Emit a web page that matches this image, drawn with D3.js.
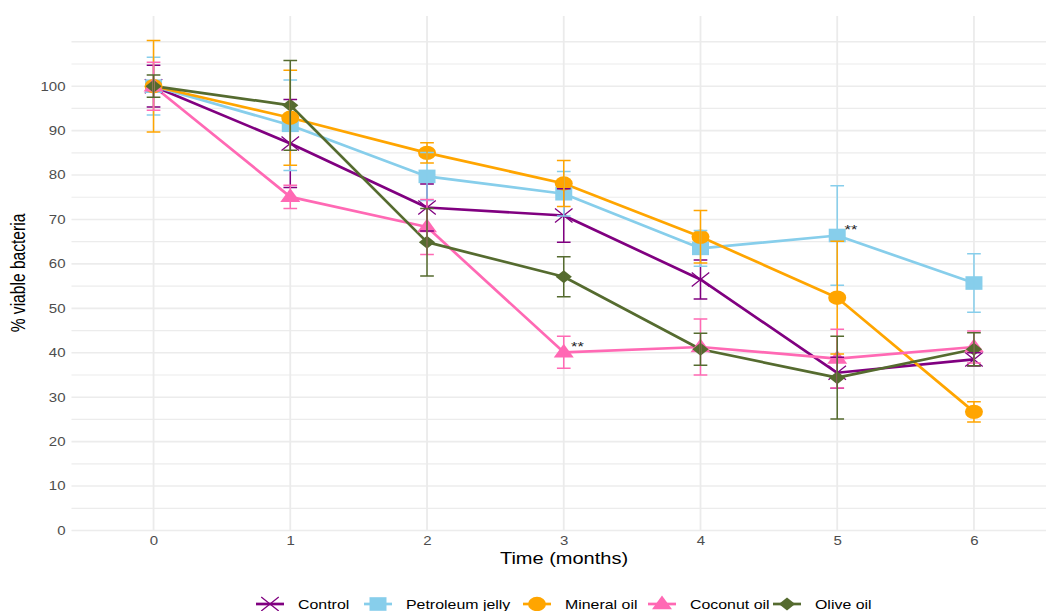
<!DOCTYPE html>
<html>
<head>
<meta charset="utf-8">
<script src="https://cdn.jsdelivr.net/npm/d3@7"></script>
<style>
  html, body { margin: 0; padding: 0; background: #fff; }
  svg { display: block; font-family: "Liberation Sans", Arial, sans-serif; }
</style>
</head>
<body>
<svg id="chart" width="1046" height="611"></svg>
<script>
// ---- data ----
const months = [0, 1, 2, 3, 4, 5, 6];
const seriesNames = ["Control", "Petroleum jelly", "Mineral oil", "Coconut oil", "Olive oil"];
const seriesColors = ["#800080", "#87CEEB", "#FFA500", "#FF69B4", "#556B2F"];
const seriesShapes = ["cross", "square", "circle", "triangle", "diamond"];

const control       = [100, 87.1, 72.7, 70.9, 56.5, 35.5, 38.5];
const controlErr    = [4.7, 9.9, 5.3, 6.0, 4.4, 3.5, 1.5];
const petroleum     = [100, 91.2, 79.7, 75.8, 63.5, 66.4, 55.7];
const petroleumErr  = [6.5, 10.2, 5.4, 5.0, 4.0, 11.2, 6.6];
const mineral       = [100, 92.9, 85.0, 78.1, 66.1, 52.4, 26.7];
const mineralErr    = [10.3, 10.7, 2.3, 5.2, 5.9, 12.7, 2.3];
const coconut       = [100, 75.1, 68.3, 40.1, 41.3, 38.7, 41.3];
const coconutErr    = [5.4, 2.6, 6.2, 3.6, 6.3, 6.6, 3.6];
const olive         = [100, 95.7, 64.9, 57.1, 40.8, 34.4, 40.8];
const oliveErr      = [2.5, 10.1, 7.6, 4.5, 3.6, 9.3, 3.7];

const yTicks = [0, 10, 20, 30, 40, 50, 60, 70, 80, 90, 100];
const yGrid = d3.range(0, 111, 5);
const annotations = [ {series: "Coconut oil", month: 3, label: "**"},
                      {series: "Petroleum jelly", month: 5, label: "**"} ];

const valueSets = [control, petroleum, mineral, coconut, olive];
const errSets = [controlErr, petroleumErr, mineralErr, coconutErr, oliveErr];
const series = seriesNames.map((name, i) => ({
  name, color: seriesColors[i], shape: seriesShapes[i],
  points: months.map((m, j) => ({m, v: valueSets[i][j], e: errSets[i][j]}))
}));

// ---- layout ----
const SX = 1.25; // horizontal stretch of the reference
const svg = d3.select("#chart");
const x = d3.scaleLinear().domain([-0.6, 6.6]).range([71.5, 1056]);
const y = d3.scaleLinear().domain([0, 115.8]).range([530.5, 16]);

// gridlines
const grid = svg.append("g");
grid.selectAll("line.h").data(yGrid).enter().append("line")
  .attr("x1", 71.5).attr("x2", 1056)
  .attr("y1", d => y(d)).attr("y2", d => y(d))
  .attr("stroke", "#ececec").attr("stroke-width", d => d % 10 === 0 ? 1.6 : 1.2);
grid.selectAll("line.v").data(months).enter().append("line")
  .attr("x1", d => x(d)).attr("x2", d => x(d))
  .attr("y1", 16).attr("y2", 530.5)
  .attr("stroke", "#ebebeb").attr("stroke-width", 1.8);

// axes
const yAxis = svg.append("g").attr("transform", "translate(71.5,0)")
  .call(d3.axisLeft(y).tickValues(yTicks).tickSize(0).tickPadding(6));
const xAxis = svg.append("g").attr("transform", "translate(0,530.5)")
  .call(d3.axisBottom(x).tickValues(months).tickFormat(d3.format("d")).tickSize(0).tickPadding(6));
[yAxis, xAxis].forEach(a => {
  a.select(".domain").remove();
  a.selectAll("text").attr("font-size", 12).attr("fill", "#4d4d4d")
    .attr("font-family", "Liberation Sans, Arial, sans-serif");
});
// stretch tick labels horizontally around their anchor
yAxis.selectAll(".tick text").attr("transform", function() {
  const xx = +d3.select(this).attr("x");
  return `translate(${xx},0) scale(${SX},1) translate(${-xx},0)`;
});
xAxis.selectAll(".tick text").attr("transform", `scale(${SX},1)`);

// axis titles
svg.append("text").attr("transform", `translate(564,564) scale(${SX},1)`)
  .attr("text-anchor", "middle").attr("font-size", 16).attr("fill", "#000")
  .text("Time (months)");
svg.append("text").attr("transform", `translate(25,273) scale(${SX},1) rotate(-90)`)
  .attr("text-anchor", "middle").attr("font-size", 15.6).attr("fill", "#000")
  .text("% viable bacteria");

// symbol generator (base, before horizontal stretch)
function shapePath(shape) {
  switch (shape) {
    case "circle": return d3.symbol(d3.symbolCircle, Math.PI * 7.2 * 7.2)();
    case "square": return "M-6.8,-6.8H6.8V6.8H-6.8Z";
    case "triangle": return "M0,-8.6L8,5.2L-8,5.2Z";
    case "diamond": return "M0,-6.5L6.5,0L0,6.5L-6.5,0Z";
    case "cross": return "M-7,-7L7,7M-7,7L7,-7";
  }
}
function drawSymbol(g, s, cx, cy, k) {
  const p = g.append("path")
    .attr("d", shapePath(s.shape))
    .attr("transform", `translate(${cx},${cy}) scale(${SX * (k || 1)},${k || 1})`);
  if (s.shape === "cross") {
    p.attr("fill", "none").attr("stroke", s.color).attr("stroke-width", 1.3)
     .attr("vector-effect", "non-scaling-stroke");
  } else {
    p.attr("fill", s.color).attr("stroke", "none");
  }
}

// lines
const line = d3.line().x(d => x(d.m)).y(d => y(d.v));
const plot = svg.append("g");
series.forEach(s => {
  plot.append("path").datum(s.points)
    .attr("d", line).attr("fill", "none")
    .attr("stroke", s.color).attr("stroke-width", 2.7).attr("stroke-linejoin", "round");
});
// points
series.forEach(s => {
  const g = plot.append("g");
  s.points.forEach(p => drawSymbol(g, s, x(p.m), y(p.v)));
});
// error bars
series.forEach(s => {
  const g = plot.append("g").attr("stroke", s.color).attr("stroke-width", 1.5).attr("fill", "none");
  s.points.forEach(p => {
    const x0 = x(p.m - 0.05), x1 = x(p.m + 0.05), xc = x(p.m);
    const yt = y(p.v + p.e), yb = y(p.v - p.e);
    g.append("path").attr("d", `M${x0},${yt}H${x1}M${xc},${yt}V${yb}M${x0},${yb}H${x1}`);
  });
});

// significance annotations
annotations.forEach(a => {
  const s = series.find(d => d.name === a.series);
  const p = s.points.find(d => d.m === a.month);
  svg.append("text")
    .attr("transform", `translate(${x(a.month + 0.1)},${y(p.v) - 1}) scale(${SX},1)`)
    .attr("text-anchor", "middle").attr("font-size", 13).attr("fill", "#222")
    .text(a.label);
});

// legend
const legendKeyX = [270, 378, 537, 662, 787];
const legend = svg.append("g");
series.forEach((s, i) => {
  const cx = legendKeyX[i], cy = 604;
  legend.append("line").attr("x1", cx - 14).attr("x2", cx + 14)
    .attr("y1", cy).attr("y2", cy).attr("stroke", s.color).attr("stroke-width", 2.7);
  drawSymbol(legend, s, cx, cy);
  legend.append("text")
    .attr("transform", `translate(${cx + 28},${cy + 5}) scale(${SX * 0.98},1)`)
    .attr("font-size", 13).attr("fill", "#000").text(s.name);
});
</script>
</body>
</html>
